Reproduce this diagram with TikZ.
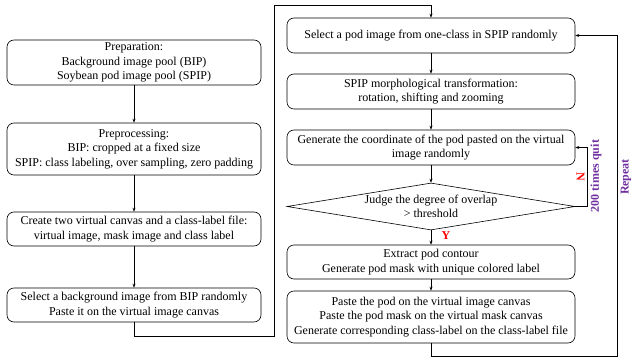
\documentclass[tikz,border=0pt]{standalone}
\usepackage{fontspec}
\setmainfont{Liberation Serif}
\usetikzlibrary{arrows.meta,shapes.geometric}
\definecolor{loopviolet}{RGB}{112,48,160}
\begin{document}
\begin{tikzpicture}[x=1pt,y=-1pt,
  every node/.style={font=\fontsize{12}{14.4}\selectfont},
  procbox/.style={draw, rounded corners=7pt, align=center, inner sep=0pt, line width=0.6pt},
  flow/.style={draw, line width=0.6pt, -{Stealth[length=4pt,width=3pt]}},
  looplabel/.style={text=loopviolet, font=\fontsize{12}{14}\selectfont\bfseries, rotate=90}]
\useasboundingbox (0,0) rectangle (639,358);
% left column
\node[procbox, minimum width=254pt, minimum height=45pt] (prep) at (134,62.5)
  {Preparation:\\Background image pool (BIP)\\Soybean pod image pool (SPIP)};
\node[procbox, minimum width=254pt, minimum height=52pt] (pre) at (134,149)
  {Preprocessing:\\BIP: cropped at a fixed size\\SPIP: class labeling, over sampling, zero padding};
\node[procbox, minimum width=254pt, minimum height=34pt] (canvas) at (134,229)
  {Create two virtual canvas and a class-label file:\\virtual image, mask image and class label};
\node[procbox, minimum width=254pt, minimum height=34pt] (bg) at (134,305)
  {Select a background image from BIP randomly\\Paste it on the virtual image canvas};
% right column
\node[procbox, minimum width=288pt, minimum height=35pt] (sel) at (431,35.5)
  {Select a pod image from one-class in SPIP randomly};
\node[procbox, minimum width=288pt, minimum height=35pt] (morph) at (431,91.5)
  {SPIP morphological transformation:\\rotation, shifting and zooming};
\node[procbox, minimum width=288pt, minimum height=35pt] (coord) at (431,147.5)
  {Generate the coordinate of the pod pasted on the virtual\\image randomly};
\node[draw, diamond, aspect=6.1, inner sep=0pt, minimum width=288pt, minimum height=47pt,
  align=center, line width=0.6pt] (judge) at (431,206.5)
  {Judge the degree of overlap\\> threshold};
\node[procbox, minimum width=288pt, minimum height=34pt] (contour) at (431,262)
  {Extract pod contour\\Generate pod mask with unique colored label};
\node[procbox, minimum width=288pt, minimum height=52pt] (paste) at (431,317)
  {Paste the pod on the virtual image canvas\\Paste the pod mask on the virtual mask canvas\\Generate corresponding class-label on the class-label file};
% helper points of the routed connectors
\coordinate (lb) at (134,336);
\coordinate (lr) at (274,336);
\coordinate (tr) at (274,5);
\coordinate (tt) at (431,5);
\coordinate (nr) at (587,206.5);
\coordinate (nt) at (587,147.5);
\coordinate (rb) at (431,356);
\coordinate (rr) at (617,356);
\coordinate (rt) at (617,35.5);
% connectors
\draw[flow] (prep) -- (pre);
\draw[flow] (pre) -- (canvas);
\draw[flow] (canvas) -- (bg);
\draw[flow] (bg.south) -- (lb) -- (lr) -- (tr) -- (tt) -- (sel.north);
\draw[flow] (sel) -- (morph);
\draw[flow] (morph) -- (coord);
\draw[flow] (coord) -- (judge);
\draw[flow] (judge) -- (contour);
\draw[flow] (contour) -- (paste);
\draw[flow] (judge.east) -- (nr) -- (nt) -- (coord.east);
\draw[flow] (paste.south) -- (rb) -- (rr) -- (rt) -- (sel.east);
% labels
\node[text=red, font=\fontsize{12}{14}\selectfont\bfseries, rotate=-90] (nlab) at (580.5,177) {N};
\node[text=red, font=\fontsize{12}{14}\selectfont\bfseries] (ylab) at (446,236) {Y};
\node[looplabel] (quit) at (596,176) {200 times quit};
\node[looplabel] (rep) at (626,177) {Repeat};
\end{tikzpicture}
\end{document}
